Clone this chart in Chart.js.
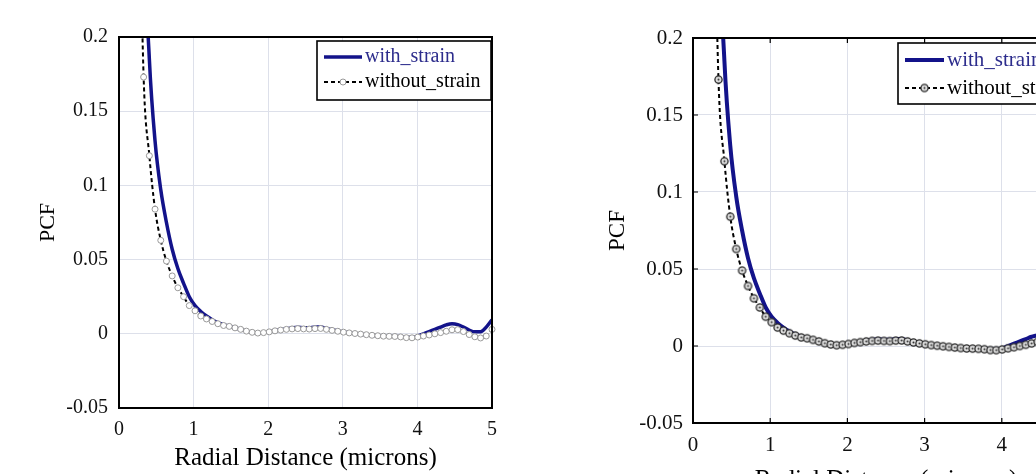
<!DOCTYPE html>
<html>
<head>
<meta charset="utf-8">
<script src="https://cdn.jsdelivr.net/npm/chart.js@4.4.1/dist/chart.umd.min.js"></script>
<style>
  html, body { margin: 0; padding: 0; width: 1036px; height: 474px; overflow: hidden; background: #fff; }
  #leftBox { position: absolute; left: 0; top: 0; width: 520px; height: 474px; }
  #rightBox { position: absolute; left: 560px; top: 0; width: 540px; height: 520px; }
</style>
</head>
<body>
<div id="leftBox"><canvas id="leftChart" width="520" height="474"></canvas></div>
<div id="rightBox"><canvas id="rightChart" width="540" height="520"></canvas></div>
<script>
// radial distance of each sample (microns)
const radius = [0.330, 0.407, 0.483, 0.560, 0.636, 0.713, 0.789, 0.866, 0.942, 1.019,
  1.096, 1.172, 1.249, 1.325, 1.402, 1.478, 1.555, 1.631, 1.708, 1.785,
  1.861, 1.938, 2.014, 2.091, 2.167, 2.244, 2.320, 2.397, 2.474, 2.550,
  2.627, 2.703, 2.780, 2.856, 2.933, 3.009, 3.086, 3.163, 3.239, 3.316,
  3.392, 3.469, 3.545, 3.622, 3.698, 3.775, 3.852, 3.928, 4.005, 4.081,
  4.158, 4.234, 4.311, 4.387, 4.464, 4.541, 4.617, 4.694, 4.770, 4.847,
  4.923, 5.000];

const withStrain = [0.29, 0.185, 0.130, 0.097, 0.075, 0.057, 0.044, 0.034, 0.025, 0.019,
  0.015, 0.012, 0.0095, 0.0075, 0.0062, 0.0051, 0.0041, 0.003, 0.0019, 0.0011,
  0.0006, 0.0008, 0.0014, 0.0022, 0.0028, 0.0034, 0.0040, 0.0044, 0.0040, 0.0040,
  0.0046, 0.0046, 0.0036, 0.0027, 0.0019, 0.0012, 0.0006, 0.0002, -0.0002, -0.0006,
  -0.001, -0.0013, -0.0015, -0.0016, -0.0017, -0.002, -0.0024, -0.0024, -0.0015, 0.0,
  0.0015, 0.003, 0.0045, 0.006, 0.0068, 0.0062, 0.0045, 0.0025, 0.0013, 0.0013,
  0.0045, 0.0095];

const withoutStrain = [0.173, 0.120, 0.084, 0.063, 0.049, 0.039, 0.031, 0.025, 0.019, 0.0155,
  0.012, 0.010, 0.0083, 0.0068, 0.0056, 0.005, 0.004, 0.003, 0.0018, 0.001,
  0.0005, 0.0008, 0.0013, 0.002, 0.0025, 0.003, 0.0033, 0.0035, 0.0033, 0.0032,
  0.0035, 0.0036, 0.003, 0.0023, 0.0017, 0.0011, 0.0006, 0.0002, -0.0002, -0.0006,
  -0.001, -0.0013, -0.0016, -0.0017, -0.0018, -0.0021, -0.0026, -0.0027, -0.0022, -0.0015,
  -0.0008, 0.0, 0.0008, 0.0017, 0.0027, 0.0028, 0.0015, -0.0005, -0.002, -0.0028,
  -0.0015, 0.003];

// first sample sits above the top of the axes
const leadRadius = 0.254;
const leadWith = 0.6;
const leadWithout = 0.35;

const seriesNames = ["with_strain", "without_strain"];
const xTicks = [0, 1, 2, 3, 4, 5];
const yTicks = [-0.05, 0, 0.05, 0.1, 0.15, 0.2];
const yTickLabels = ["-0.05", "0", "0.05", "0.1", "0.15", "0.2"];
const xTitle = "Radial Distance (microns)";
const yTitle = "PCF";

const FONT = "'Liberation Serif', 'Times New Roman', serif";
const BLUE = "#13138a";
Chart.defaults.color = "#000";
Chart.defaults.font.family = FONT;

function toPoints(lead, vals) {
  const pts = [{ x: leadRadius, y: lead }];
  radius.forEach((r, i) => pts.push({ x: r, y: vals[i] }));
  return pts;
}

// marker used on the right figure: grey circle with a dot in the middle
function dotCircle() {
  const c = document.createElement("canvas");
  c.width = 11; c.height = 11;
  const g = c.getContext("2d");
  g.beginPath();
  g.arc(5.5, 5.5, 3.6, 0, Math.PI * 2);
  g.fillStyle = "#dedede";
  g.fill();
  g.lineWidth = 1.3;
  g.strokeStyle = "#2a2a2a";
  g.stroke();
  g.beginPath();
  g.arc(5.5, 5.5, 1.0, 0, Math.PI * 2);
  g.fillStyle = "#333";
  g.fill();
  return c;
}

// frame, inner ticks and the boxed legend
const framePlugin = {
  id: "frame",
  afterDraw(chart, args, opts) {
    const ctx = chart.ctx;
    const a = chart.chartArea;
    ctx.save();
    if (opts.innerTicks) {
      ctx.strokeStyle = "#000";
      ctx.lineWidth = 1.2;
      const xs = chart.scales.x, ys = chart.scales.y;
      xTicks.forEach((t) => {
        const px = xs.getPixelForValue(t);
        ctx.beginPath();
        ctx.moveTo(px, a.top); ctx.lineTo(px, a.top + 5);
        ctx.moveTo(px, a.bottom); ctx.lineTo(px, a.bottom - 5);
        ctx.stroke();
      });
      yTicks.forEach((t) => {
        const py = ys.getPixelForValue(t);
        ctx.beginPath();
        ctx.moveTo(a.left, py); ctx.lineTo(a.left + 5, py);
        ctx.moveTo(a.right, py); ctx.lineTo(a.right - 5, py);
        ctx.stroke();
      });
    }
    ctx.strokeStyle = "#000";
    ctx.lineWidth = 2;
    ctx.strokeRect(a.left, a.top, a.right - a.left, a.bottom - a.top);

    const L = opts.legend;
    ctx.fillStyle = "#fff";
    ctx.fillRect(L.x, L.y, L.w, L.h);
    ctx.lineWidth = 1.6;
    ctx.strokeRect(L.x, L.y, L.w, L.h);

    ctx.beginPath();
    ctx.strokeStyle = BLUE;
    ctx.lineWidth = L.lineWidth;
    ctx.moveTo(L.x0, L.row1); ctx.lineTo(L.x1, L.row1);
    ctx.stroke();

    ctx.beginPath();
    ctx.strokeStyle = "#000";
    ctx.lineWidth = 2;
    ctx.setLineDash([4, 3]);
    ctx.moveTo(L.x0, L.row2); ctx.lineTo(L.x1, L.row2);
    ctx.stroke();
    ctx.setLineDash([]);
    const mx = (L.x0 + L.x1) / 2;
    if (opts.marker === "circle") {
      ctx.beginPath();
      ctx.arc(mx, L.row2, 3, 0, Math.PI * 2);
      ctx.fillStyle = "#fff"; ctx.fill();
      ctx.strokeStyle = "#999"; ctx.lineWidth = 1; ctx.stroke();
    } else {
      ctx.drawImage(opts.marker, mx - 5.5, L.row2 - 5.5);
    }

    ctx.font = L.font + "px " + FONT;
    ctx.textBaseline = "middle";
    ctx.textAlign = "left";
    ctx.fillStyle = "#2c2c8c";
    ctx.fillText(seriesNames[0], L.tx, L.row1);
    ctx.fillStyle = "#000";
    ctx.fillText(seriesNames[1], L.tx, L.row2);
    ctx.restore();
  },
};

function makeChart(id, cfg) {
  const marker = cfg.marker;
  return new Chart(document.getElementById(id), {
    type: "line",
    data: {
      datasets: [
        {
          label: seriesNames[0],
          data: toPoints(leadWith, withStrain),
          borderColor: BLUE,
          borderWidth: cfg.lineWidth,
          pointRadius: 0,
          cubicInterpolationMode: "monotone",
          clip: { left: 0, top: 0, right: 0, bottom: 0 },
          order: 1,
        },
        {
          label: seriesNames[1],
          data: toPoints(leadWithout, withoutStrain),
          borderColor: "#000",
          borderWidth: 2,
          borderDash: [4, 3],
          cubicInterpolationMode: "monotone",
          pointStyle: marker,
          pointRadius: (c) => (c.dataIndex === 0 ? 0 : 3),
          pointBackgroundColor: "#fff",
          pointBorderColor: "#999",
          pointBorderWidth: 1,
          clip: { left: 0, top: 0, right: 6, bottom: 0 },
          order: 0,
        },
      ],
    },
    options: {
      responsive: false,
      animation: false,
      devicePixelRatio: 1,
      layout: { padding: { left: 0, top: cfg.top, right: cfg.right, bottom: 0 } },
      plugins: {
        legend: { display: false },
        tooltip: { enabled: false },
        frame: { innerTicks: cfg.innerTicks, legend: cfg.legend, marker: marker },
      },
      scales: {
        x: {
          type: "linear",
          min: 0,
          max: 5,
          afterBuildTicks: (s) => { s.ticks = xTicks.map((v) => ({ value: v })); },
          afterFit: (s) => { s.height = cfg.xHeight; },
          ticks: { font: { size: cfg.font }, padding: 10, color: "#111" },
          grid: { color: "#dde0ea", lineWidth: 1, drawTicks: false },
          border: { display: false },
          title: { display: true, text: xTitle, font: { size: cfg.titleFont }, padding: { top: 0, bottom: cfg.xTitlePad } },
        },
        y: {
          min: -0.05,
          max: 0.2,
          afterBuildTicks: (s) => { s.ticks = yTicks.map((v) => ({ value: v })); },
          afterFit: (s) => { s.width = cfg.yWidth; },
          ticks: {
            font: { size: cfg.font },
            padding: cfg.yPad,
            color: "#111",
            callback: (v) => yTickLabels[yTicks.indexOf(v)],
          },
          grid: { color: "#dde0ea", lineWidth: 1, drawTicks: false },
          border: { display: false },
          title: { display: true, text: yTitle, font: { size: cfg.yTitleFont }, padding: { top: cfg.yTitlePad, bottom: 0 } },
        },
      },
    },
    plugins: [framePlugin],
  });
}

makeChart("leftChart", {
  top: 37, right: 28, yWidth: 119, xHeight: 66,
  font: 20, titleFont: 25, yTitleFont: 22, yTitlePad: 35, xTitlePad: 1, yPad: 11,
  lineWidth: 3.5, marker: "circle", innerTicks: false,
  legend: { x: 317, y: 41, w: 174, h: 59, row1: 57, row2: 82, x0: 324, x1: 362, tx: 365, font: 20, lineWidth: 3.5 },
});

makeChart("rightChart", {
  top: 38, right: 21, yWidth: 133, xHeight: 97,
  font: 21, titleFont: 25, yTitleFont: 23, yTitlePad: 44, xTitlePad: 25, yPad: 10,
  lineWidth: 4, marker: dotCircle(), innerTicks: true,
  legend: { x: 338, y: 43, w: 240, h: 61, row1: 60, row2: 88, x0: 345, x1: 384, tx: 387, font: 21, lineWidth: 4 },
});
</script>
</body>
</html>
